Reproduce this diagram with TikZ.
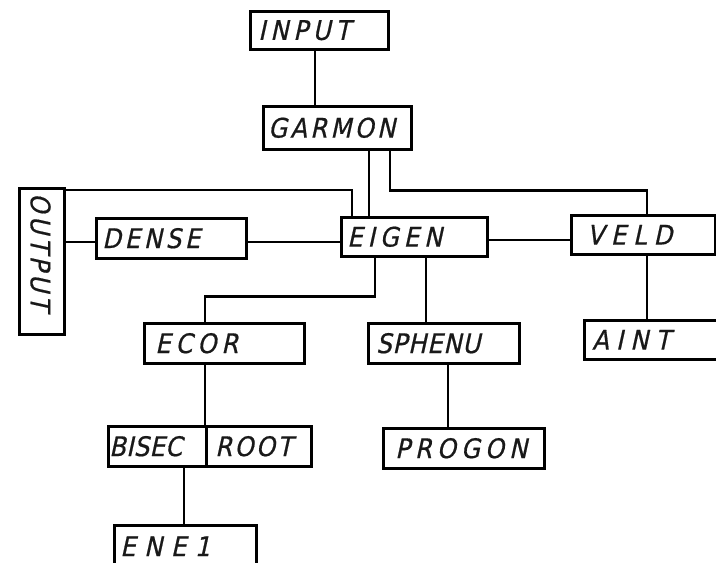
\documentclass[tikz,border=0pt]{standalone}
\usepackage{fontspec}
\setmainfont{DejaVu Sans}
\newfontfamily\handfont[FakeSlant=0.22,FakeBold=0.6]{DejaVu Sans Condensed}

% spread the letters of a word over a given width
\newcommand\spacedtext[2]{\makebox[#1pt][s]{\spreadletters#2\relax}}
\def\spreadletters#1#2{#1\ifx\relax#2\else\hfill\expandafter\spreadletters\expandafter#2\fi}

\tikzset{
  x=1pt, y=-1pt,
  box/.style={draw, line width=2.5pt, inner sep=0pt, anchor=north west},
  lbl/.style={inner sep=0pt, anchor=west, text=black!90,
              font=\handfont\fontsize{27}{27}\selectfont},
  wire/.style={line width=2.5pt}
}

% name, left, top, right, bottom, text left, text width, text
\newcommand\chartbox[8]{%
  \node[box, minimum width={#4-#2}, minimum height={#5-#3}] (#1) at (#2,#3) {};
  \node[lbl] (#1-text) at (#6,0 |- #1.west) {\spacedtext{#7}{#8}};
}

\begin{document}
\begin{tikzpicture}
\useasboundingbox (0,0) rectangle (716,563);
\fill[white] (0,0) rectangle (716,563);
\clip (0,0) rectangle (716,563);

% boxes
\chartbox{input}{249}{10}{387}{48}{258}{92}{INPUT}
\chartbox{garmon}{262}{105}{410}{148}{268}{127}{GARMON}
\chartbox{dense}{95}{217}{245}{257}{102}{98}{DENSE}
\chartbox{eigen}{340}{216}{486}{255}{347}{95}{EIGEN}
\chartbox{veld}{570}{214}{714}{253}{587}{85}{VELD}
\chartbox{aint}{583}{319}{730}{358}{592}{78}{AINT}
\chartbox{ecor}{143}{322}{303}{362}{155}{83}{ECOR}
\chartbox{sphenu}{367}{322}{518}{362}{376}{104}{SPHENU}
\chartbox{bisec}{107}{425}{205}{465}{109}{73}{BISEC}
\chartbox{root}{205}{425}{310}{465}{215}{77}{ROOT}
\chartbox{progon}{382}{427}{543}{467}{395}{132}{PROGON}
\chartbox{ene}{113}{524}{255}{566}{120}{90}{ENE1}

% vertical OUTPUT box
\node[box, minimum width=45, minimum height=146] (output) at (18,187) {};
\node[lbl, rotate=-90] (output-text) at (40.5,193) {\spacedtext{117}{OUTPUT}};

% connectors
\draw[wire] (input.south -| 315,0) -- (garmon.north -| 315,0);
\draw[wire] (garmon.south -| 369,0) -- (eigen.north -| 369,0);
\draw[wire] (garmon.south -| 390,0) -- ++(0,40) -| (veld.north -| 647,0);
\draw[wire] (output.north east |- 0,190) -| (eigen.north -| 352,0);
\draw[wire] (output.east |- 0,242) -- (dense.west |- 0,242);
\draw[wire] (dense.east |- 0,242) -- (eigen.west |- 0,242);
\draw[wire] (eigen.east |- 0,240) -- (veld.west |- 0,240);
\draw[wire] (veld.south -| 647,0) -- (aint.north -| 647,0);
\draw[wire] (eigen.south -| 375,0) -- ++(0,39) -| (ecor.north -| 205,0);
\draw[wire] (eigen.south -| 426,0) -- (sphenu.north -| 426,0);
\draw[wire] (ecor.south -| 205,0) -- (bisec.north east -| 205,0);
\draw[wire] (bisec.south -| 184,0) -- (ene.north -| 184,0);
\draw[wire] (sphenu.south -| 448,0) -- (progon.north -| 448,0);
\end{tikzpicture}
\end{document}
